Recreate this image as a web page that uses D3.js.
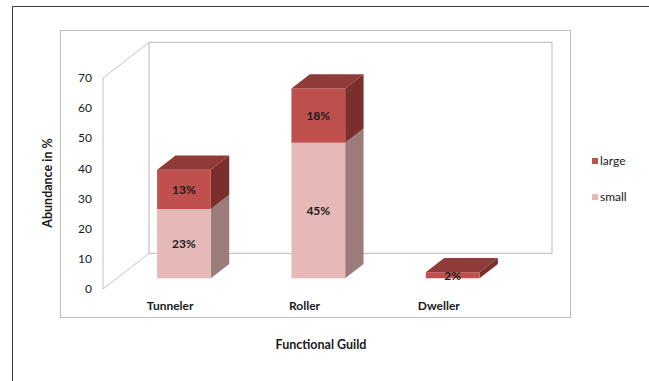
<!DOCTYPE html>
<html>
<head>
<meta charset="utf-8">
<script src="https://cdn.jsdelivr.net/npm/d3@7/dist/d3.min.js"></script>
<style>
  html, body { margin: 0; padding: 0; background: #fff; }
  svg { display: block; }
  text { font-family: Lato, "Open Sans", sans-serif; fill: #1a1a1a; }
</style>
</head>
<body>
<svg id="chart" width="649" height="381"></svg>
<script>
// Abundance (%) of dung beetle functional guilds, split by body size
const categories = ["Tunneler", "Roller", "Dweller"];
const smallValues = [23, 45, 0];
const largeValues = [13, 18, 2];
const seriesNames = ["large", "small"];
const yTicks = [0, 10, 20, 30, 40, 50, 60, 70];

const svg = d3.select("#chart");

// Outer chart frame and plot-area box
svg.append("path").attr("d", "M12.5,381 L12.5,6.5 L649,6.5")
  .attr("fill", "none").attr("stroke", "#3a3a3a").attr("stroke-width", 1);
svg.append("rect").attr("x", 60.5).attr("y", 30.5).attr("width", 510).attr("height", 287)
  .attr("fill", "none").attr("stroke", "#bdbdbd").attr("stroke-width", 1);

// 3D projection: front plane scales plus a depth offset
const depthDX = 46, depthDY = -35.6;
const x = d3.scaleBand().domain(categories).range([103, 506]).paddingInner(0.6).paddingOuter(0.3);
const y = d3.scaleLinear().domain([0, 70]).range([289, 78]);
const proj = (px, py, z) => [px + z * depthDX, py + z * depthDY];

// Walls: left side wall outline and back wall
const wallColor = "#c4c4c4";
const lw = [proj(103, y(0), 0), proj(103, y(70), 0), proj(103, y(70), 1), proj(103, y(0), 1)];
svg.append("path")
  .attr("d", `M${lw[3]} L${lw[0]} L${lw[1]} L${lw[2]}`)
  .attr("fill", "none").attr("stroke", wallColor).attr("stroke-width", 1);
const bw0 = proj(103, y(70), 1), bw1 = proj(506, y(0), 1);
svg.append("rect")
  .attr("x", bw0[0]).attr("y", bw0[1]).attr("width", bw1[0] - bw0[0]).attr("height", bw1[1] - bw0[1])
  .attr("fill", "none").attr("stroke", wallColor).attr("stroke-width", 1.2);

// Y axis tick labels along the front edge
svg.append("g").selectAll("text").data(yTicks).join("text")
  .attr("x", 92).attr("y", d => y(d)).attr("dy", "0.35em")
  .attr("text-anchor", "end").attr("font-size", 12).text(d => d);

// Stacked 3D bars
const zFront = 0.3, zBack = 0.7;
const palette = {
  small: { front: "#e6b9b8", side: "#9c7b7b", top: "#c9a2a1" },
  large: { front: "#c0504d", side: "#7b2f2d", top: "#8f3b39" }
};
const stacks = categories.map((c, i) => {
  const segs = [];
  let base = 0;
  [["small", smallValues[i]], ["large", largeValues[i]]].forEach(([k, v]) => {
    if (v > 0) segs.push({ cat: c, key: k, v0: base, v1: base + v });
    base += v;
  });
  return segs;
});

const bars = svg.append("g");
const poly = pts => "M" + pts.map(p => p.join(",")).join("L") + "Z";
stacks.forEach(segs => {
  segs.forEach((s, j) => {
    const x0 = x(s.cat), x1 = x(s.cat) + x.bandwidth();
    const yb = y(s.v0), yt = y(s.v1);
    const col = palette[s.key];
    const f = pt => proj(pt[0], pt[1], zFront);
    const b = pt => proj(pt[0], pt[1], zBack);
    // right side face
    bars.append("path").attr("d", poly([f([x1, yb]), b([x1, yb]), b([x1, yt]), f([x1, yt])]))
      .attr("fill", col.side);
    // front face
    bars.append("path").attr("d", poly([f([x0, yb]), f([x1, yb]), f([x1, yt]), f([x0, yt])]))
      .attr("fill", col.front);
    // top face only on the topmost segment
    if (j === segs.length - 1) {
      bars.append("path").attr("d", poly([f([x0, yt]), f([x1, yt]), b([x1, yt]), b([x0, yt])]))
        .attr("fill", col.top);
    }
    const c = f([(x0 + x1) / 2, (yb + yt) / 2]);
    bars.append("text").attr("x", c[0]).attr("y", c[1]).attr("dy", "0.35em")
      .attr("text-anchor", "middle").attr("font-size", 12).attr("font-weight", 700)
      .attr("fill", "#2a1a1a").text((s.v1 - s.v0) + "%");
  });
});

// Category labels
svg.append("g").selectAll("text").data(categories).join("text")
  .attr("x", d => x(d) + x.bandwidth() / 2).attr("y", 306).attr("dy", "0.35em")
  .attr("text-anchor", "middle").attr("font-size", 12).attr("font-weight", 700).text(d => d);

// Axis titles
svg.append("text").attr("transform", "translate(48,183) rotate(-90)")
  .attr("dy", "0.35em").attr("text-anchor", "middle")
  .attr("font-size", 12.5).attr("font-weight", 700).text("Abundance in %");
svg.append("text").attr("x", 321).attr("y", 345).attr("dy", "0.35em")
  .attr("text-anchor", "middle").attr("font-size", 12.5).attr("font-weight", 700).text("Functional Guild");

// Legend
const legend = svg.append("g").selectAll("g").data(seriesNames).join("g")
  .attr("transform", (d, i) => `translate(592,${161 + i * 36})`);
legend.append("rect").attr("x", 0).attr("y", -3).attr("width", 6).attr("height", 6)
  .attr("fill", d => palette[d].front);
legend.append("text").attr("x", 8).attr("dy", "0.35em").attr("font-size", 12).text(d => d);
</script>
</body>
</html>
